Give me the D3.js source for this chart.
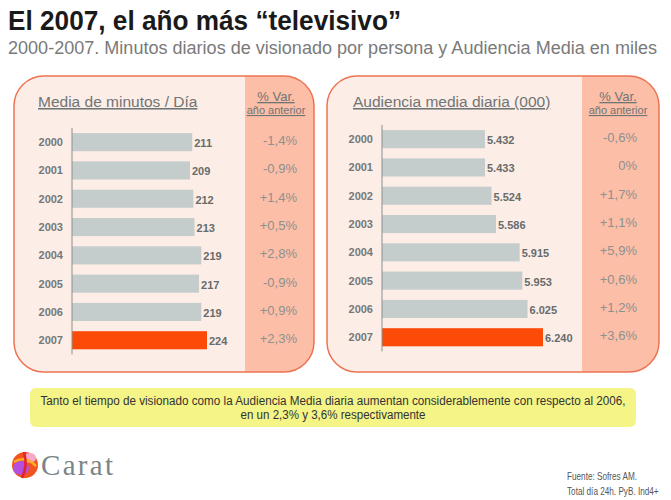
<!DOCTYPE html>
<html><head><meta charset="utf-8">
<script src="https://cdn.jsdelivr.net/npm/d3@7"></script>
<style>body{margin:0;background:#fff}svg{display:block}</style>
</head><body><svg id="c" width="671" height="500"></svg>
<script>
const years = ["2000","2001","2002","2003","2004","2005","2006","2007"];
const minutos = [211,209,212,213,219,217,219,224];
const minutosVar = ["-1,4%","-0,9%","+1,4%","+0,5%","+2,8%","-0,9%","+0,9%","+2,3%"];
const audiencia = [5432,5433,5524,5586,5915,5953,6025,6240];
const audienciaLabels = ["5.432","5.433","5.524","5.586","5.915","5.953","6.025","6.240"];
const audienciaVar = ["-0,6%","0%","+1,7%","+1,1%","+5,9%","+0,6%","+1,2%","+3,6%"];

const svg = d3.select("#c");
const F = "'Liberation Sans', Arial, sans-serif";

svg.append("text").attr("x",8).attr("y",30).attr("font-family",F).attr("font-weight","bold")
  .attr("font-size",27).attr("fill","#1a1a1a").attr("textLength",393).attr("lengthAdjust","spacingAndGlyphs")
  .text("El 2007, el año más “televisivo”");
svg.append("text").attr("x",8).attr("y",54).attr("font-family",F)
  .attr("font-size",17.5).attr("fill","#7a7a7a").attr("textLength",649).attr("lengthAdjust","spacingAndGlyphs")
  .text("2000-2007. Minutos diarios de visionado por persona y Audiencia Media en miles");

const defs = svg.append("defs");

function panel(cfg){
  const g = svg.append("g");
  const id = "clip"+cfg.id;
  defs.append("clipPath").attr("id",id).append("rect")
    .attr("x",cfg.x0).attr("y",cfg.y0).attr("width",cfg.x1-cfg.x0).attr("height",cfg.y1-cfg.y0)
    .attr("rx",30).attr("ry",30);
  g.append("rect").attr("x",cfg.x0).attr("y",cfg.y0).attr("width",cfg.x1-cfg.x0).attr("height",cfg.y1-cfg.y0)
    .attr("rx",30).attr("ry",30).attr("fill","#fdede7");
  g.append("rect").attr("clip-path","url(#"+id+")").attr("x",cfg.sx).attr("y",cfg.y0)
    .attr("width",cfg.x1-cfg.sx).attr("height",cfg.y1-cfg.y0).attr("fill","#fcbea6");
  g.append("rect").attr("x",cfg.x0).attr("y",cfg.y0).attr("width",cfg.x1-cfg.x0).attr("height",cfg.y1-cfg.y0)
    .attr("rx",30).attr("ry",30).attr("fill","none").attr("stroke","#ec7452").attr("stroke-width",1.5);

  g.append("text").attr("x",cfg.tx).attr("y",107).attr("font-family",F).attr("font-size",15.5)
    .attr("fill","#6f7575").attr("text-decoration","underline").text(cfg.title);
  g.append("text").attr("x",cfg.vx).attr("y",101).attr("text-anchor","middle").attr("font-family",F)
    .attr("font-size",13).attr("fill","#6f7575").attr("text-decoration","underline").text("% Var.");
  g.append("text").attr("x",cfg.vx).attr("y",114).attr("text-anchor","middle").attr("font-family",F)
    .attr("font-size",11).attr("fill","#6f7575").attr("text-decoration","underline").text("año anterior");

  const x = d3.scaleLinear().domain(cfg.domain).range([cfg.ax, cfg.axEnd]);
  const y = d3.scaleBand().domain(years).range(cfg.yr).paddingInner(0.36).paddingOuter(0.18);

  g.selectAll(".bar").data(cfg.values).join("rect")
    .attr("x",x(cfg.domain[0])).attr("y",(d,i)=>y(years[i]))
    .attr("width",d=>x(d)-x(cfg.domain[0])).attr("height",y.bandwidth())
    .attr("fill",(d,i)=>i===years.length-1?"#fc4a08":"#c5cdcc");

  g.append("line").attr("x1",cfg.ax).attr("x2",cfg.ax).attr("y1",cfg.yr[0]).attr("y2",cfg.yr[1])
    .attr("stroke","#8a8f8f").attr("stroke-width",1);

  g.selectAll(".yl").data(years).join("text")
    .attr("x",cfg.ax-9).attr("y",d=>y(d)+y.bandwidth()/2+4).attr("text-anchor","end")
    .attr("font-family",F).attr("font-weight","bold").attr("font-size",11).attr("fill","#737979").text(d=>d);

  g.selectAll(".vl").data(cfg.values).join("text")
    .attr("x",d=>x(d)+2).attr("y",(d,i)=>y(years[i])+y.bandwidth()/2+5).attr("font-family",F)
    .attr("font-weight","bold").attr("font-size",11).attr("fill","#666c6c").text((d,i)=>cfg.labels[i]);

  g.selectAll(".pl").data(cfg.vars).join("text")
    .attr("x",cfg.px).attr("y",(d,i)=>y(years[i])+y.bandwidth()/2+3).attr("text-anchor","end")
    .attr("font-family",F).attr("font-size",13).attr("fill","#8c9191").text(d=>d);
}

panel({id:1,x0:14,x1:314,y0:76,y1:372,sx:245,tx:38,vx:276,title:"Media de minutos / Día",
  domain:[105,224],ax:72,axEnd:207,yr:[128,354.4],values:minutos,labels:minutos.map(String),vars:minutosVar,px:297});
panel({id:2,x0:327,x1:659,y0:76,y1:372,sx:582,tx:353,vx:618,title:"Audiencia media diaria (000)",
  domain:[4000,6240],ax:382,axEnd:543,yr:[125,351.4],values:audiencia,labels:audienciaLabels,vars:audienciaVar,px:637});

// yellow note
svg.append("rect").attr("x",30).attr("y",388).attr("width",606).attr("height",39).attr("rx",6)
  .attr("fill","#f4f487");
svg.append("text").attr("x",333).attr("y",405).attr("text-anchor","middle").attr("font-family",F)
  .attr("font-size",12.5).attr("fill","#333").attr("textLength",585).attr("lengthAdjust","spacingAndGlyphs")
  .text("Tanto el tiempo de visionado como la Audiencia Media diaria aumentan considerablemente con respecto al 2006,");
svg.append("text").attr("x",333).attr("y",419).attr("text-anchor","middle").attr("font-family",F)
  .attr("font-size",12.5).attr("fill","#333").attr("textLength",185).attr("lengthAdjust","spacingAndGlyphs")
  .text("en un 2,3% y 3,6% respectivamente");

// Carat logo
const lg = svg.append("g");
lg.append("circle").attr("cx",25).attr("cy",465).attr("r",13).attr("fill","#f2541f");
lg.append("ellipse").attr("cx",21).attr("cy",468).attr("rx",8).attr("ry",7).attr("fill","#b44fe0");
lg.append("ellipse").attr("cx",30).attr("cy",458).attr("rx",6).attr("ry",5).attr("fill","#f7a8c8");
lg.append("path").attr("d","M14,462 Q25,455 36,466").attr("stroke","#ffb020").attr("stroke-width",2.5).attr("fill","none");
lg.append("path").attr("d","M24,452 Q28,466 22,478").attr("stroke","#e8202a").attr("stroke-width",2.5).attr("fill","none");
lg.append("text").attr("x",41).attr("y",475).attr("font-family","'Liberation Serif', serif")
  .attr("font-size",29).attr("fill","#7b8486").attr("textLength",72).text("Carat");

// footer (horizontally condensed via transform)
const fg = svg.append("g").attr("transform","translate(567,0) scale(0.78,1)");
fg.append("text").attr("x",0).attr("y",480).attr("font-family",F).attr("font-size",10.5)
  .attr("fill","#555").text("Fuente: Sofres AM.");
fg.append("text").attr("x",0).attr("y",495).attr("font-family",F).attr("font-size",10.5)
  .attr("fill","#555").text("Total día 24h. PyB. Ind4+");
</script></body></html>
